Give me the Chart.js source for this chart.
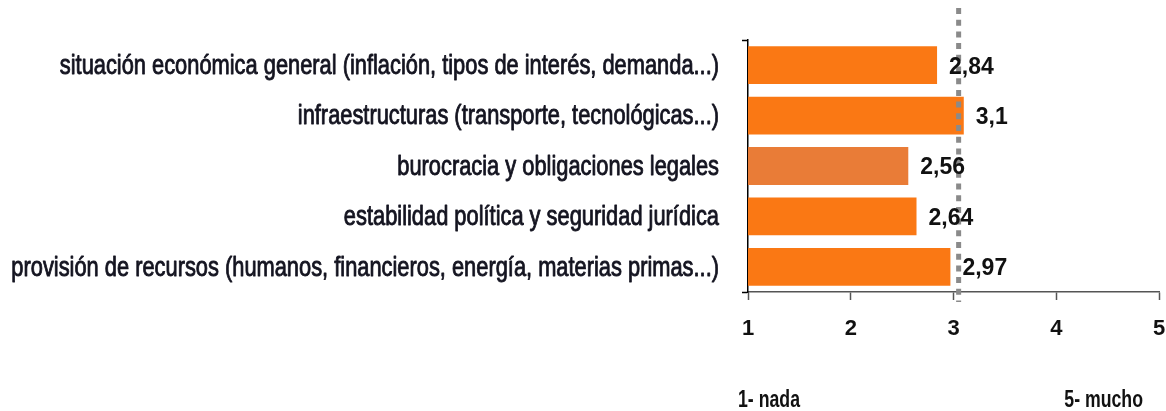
<!DOCTYPE html>
<html>
<head>
<meta charset="utf-8">
<script src="https://cdn.jsdelivr.net/npm/chart.js@4.4.1/dist/chart.umd.min.js"></script>
<style>
  html, body { margin: 0; padding: 0; background: #ffffff; }
  canvas { display: block; }
</style>
</head>
<body>
<canvas id="c" width="1166" height="411"></canvas>
<script>
// ---- data ----
const categories = [
  'situación económica general (inflación, tipos de interés, demanda...)',
  'infraestructuras (transporte, tecnológicas...)',
  'burocracia y obligaciones legales',
  'estabilidad política y seguridad jurídica',
  'provisión de recursos (humanos, financieros, energía, materias primas...)'
];
const values = [2.84, 3.1, 2.56, 2.64, 2.97];
const valueLabels = ['2,84', '3,1', '2,56', '2,64', '2,97'];
const barColors = ['#FA7814', '#FA7814', '#E97C37', '#FA7814', '#FA7814'];
const xTicks = [1, 2, 3, 4, 5];
const referenceLine = [3.05];
const scaleEndLabels = ['1- nada', '5- mucho'];

const FONT = "'Liberation Sans', Arial, sans-serif";

function drawCondensed(ctx, text, x, y, sx, align, stroke) {
  ctx.save();
  ctx.translate(x, y);
  ctx.scale(sx, 1);
  ctx.textAlign = align;
  ctx.fillText(text, 0, 0);
  if (stroke) {
    ctx.lineWidth = stroke;
    ctx.strokeStyle = ctx.fillStyle;
    ctx.lineJoin = 'round';
    ctx.strokeText(text, 0, 0);
  }
  ctx.restore();
}

const overlayPlugin = {
  id: 'overlay',
  afterDatasetsDraw(chart) {
    const ctx = chart.ctx;
    const xs = chart.scales.x;
    const ys = chart.scales.y;
    // dotted reference line
    const rx = xs.getPixelForValue(referenceLine[0]);
    ctx.save();
    ctx.strokeStyle = '#8a8a8a';
    ctx.lineWidth = 5;
    ctx.setLineDash([6, 5.7]);
    ctx.beginPath();
    ctx.moveTo(rx, 8);
    ctx.lineTo(rx, 302);
    ctx.stroke();
    ctx.restore();
    // value labels
    const meta = chart.getDatasetMeta(0);
    ctx.save();
    ctx.font = "bold 23px " + FONT;
    ctx.fillStyle = '#111111';
    ctx.textBaseline = 'middle';
    meta.data.forEach((bar, i) => {
      drawCondensed(ctx, valueLabels[i], bar.x + 12, bar.y + 2, 1, 'left');
    });
    ctx.restore();
    // category labels (condensed, right aligned against the axis)
    ctx.save();
    ctx.font = "28px " + FONT;
    ctx.fillStyle = '#141420';
    ctx.textBaseline = 'middle';
    categories.forEach((c, i) => {
      drawCondensed(ctx, c, ys.left + ys.width - 29, ys.getPixelForTick(i) + 1, 0.78, 'right', 0.9);
    });
    ctx.restore();
  },
  afterDraw(chart) {
    const ctx = chart.ctx;
    ctx.save();
    ctx.font = "bold 23px " + FONT;
    ctx.fillStyle = '#111111';
    ctx.textBaseline = 'middle';
    drawCondensed(ctx, scaleEndLabels[0], 738, 401, 0.77, 'left');
    drawCondensed(ctx, scaleEndLabels[1], 1143, 401, 0.77, 'right');
    ctx.restore();
  }
};

new Chart(document.getElementById('c'), {
  type: 'bar',
  data: {
    labels: categories,
    datasets: [{
      data: values,
      backgroundColor: barColors,
      borderWidth: 0,
      barPercentage: 0.75,
      categoryPercentage: 1.0
    }]
  },
  options: {
    indexAxis: 'y',
    responsive: false,
    animation: false,
    layout: { padding: { left: 0, right: 7, top: 40, bottom: 0 } },
    plugins: {
      legend: { display: false },
      tooltip: { enabled: false }
    },
    scales: {
      x: {
        type: 'linear',
        min: 1,
        max: 5,
        afterBuildTicks(scale) { scale.ticks = xTicks.map(v => ({ value: v })); },
        afterFit(scale) {
          scale.height = 119;
          scale.paddingLeft = 0;
          scale.paddingRight = 0;
        },
        ticks: {
          font: { family: FONT, size: 22, weight: 'bold' },
          color: '#111111',
          padding: 16,
          callback: v => String(v)
        },
        grid: {
          drawOnChartArea: false,
          drawTicks: true,
          tickLength: 8,
          tickColor: '#555555',
          tickWidth: 1.5
        },
        border: { display: true, color: '#555555', width: 1.5 }
      },
      y: {
        afterFit(scale) {
          scale.width = 748;
          scale.paddingTop = 0;
          scale.paddingBottom = 0;
        },
        ticks: { display: false },
        grid: {
          offset: true,
          drawOnChartArea: false,
          drawTicks: true,
          tickLength: 6,
          tickColor: ctx => (ctx.index === 0 || ctx.index === undefined) ? '#000000' : 'rgba(0,0,0,0)',
          tickWidth: 1.5
        },
        border: { display: true, color: '#000000', width: 1.5 }
      }
    }
  },
  plugins: [overlayPlugin]
});
</script>
</body>
</html>
